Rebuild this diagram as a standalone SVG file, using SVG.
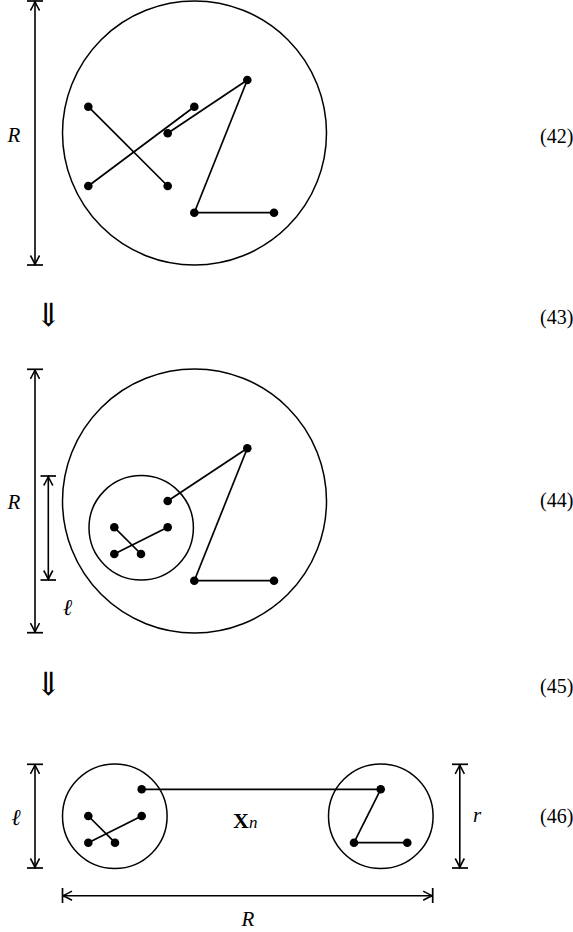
<svg xmlns="http://www.w3.org/2000/svg" width="573" height="932" viewBox="0 0 573 932">
  <style>
    .circ { fill: none; stroke: #000; stroke-width: 1.5; }
    .seg { fill: none; stroke: #000; stroke-width: 1.7; }
    .dim { fill: none; stroke: #000; stroke-width: 1.6; marker-start: url(#arr); marker-end: url(#arr); }
    .tick { fill: none; stroke: #000; stroke-width: 1.7; }
    .dot { fill: #000; }
    .lbl { font-family: "Liberation Serif", "Times New Roman", serif; font-size: 21px; font-style: italic; fill: #000; }
    .ell { font-family: "Liberation Serif", "Times New Roman", serif; font-size: 23px; font-style: italic; fill: #000; }
    .eq { font-family: "Liberation Serif", "Times New Roman", serif; font-size: 20px; fill: #000; }
    .imp { font-family: "DejaVu Sans", "DejaVu Serif", sans-serif; font-size: 32px; font-weight: 200; fill: #000; }
    .bold { font-family: "Liberation Serif", "Times New Roman", serif; font-size: 22px; font-weight: bold; fill: #000; }
    .sub { font-family: "Liberation Serif", "Times New Roman", serif; font-size: 17px; font-style: italic; fill: #000; }
  </style>
  <defs>
    <marker id="arr" markerUnits="userSpaceOnUse" markerWidth="12" markerHeight="12" viewBox="-9 -5 10 10" refX="0" refY="0" orient="auto-start-reverse">
      <path d="M -7.5 -3.8 Q -2.5 -1 0 0 Q -2.5 1 -7.5 3.8" fill="none" stroke="#000" stroke-width="1.3"/>
    </marker>
  </defs>

  <!-- Panel 42 -->
  <g id="panel42">
    <g id="dim42">
      <line class="tick" x1="27" y1="1" x2="43" y2="1"/>
      <line class="tick" x1="27" y1="265" x2="43" y2="265"/>
      <line class="dim" x1="35" y1="1.5" x2="35" y2="264.5"/>
      <text class="lbl" x="14" y="142" text-anchor="middle">R</text>
    </g>
    <circle id="big42" class="circ" cx="194.5" cy="133" r="132"/>
    <g id="walk42">
      <line class="seg" x1="88.3" y1="106.7" x2="167.7" y2="186"/>
      <line class="seg" x1="88.3" y1="186" x2="194.3" y2="106.7"/>
      <line class="seg" x1="167.7" y1="133.3" x2="247.3" y2="80"/>
      <line class="seg" x1="247.3" y1="80" x2="194.3" y2="212.7"/>
      <line class="seg" x1="194.3" y1="212.7" x2="274" y2="212.7"/>
      <circle class="dot" cx="88.3" cy="106.7" r="4.3"/>
      <circle class="dot" cx="194.3" cy="106.7" r="4.3"/>
      <circle class="dot" cx="247.3" cy="80" r="4.3"/>
      <circle class="dot" cx="167.7" cy="133.3" r="4.3"/>
      <circle class="dot" cx="88.3" cy="186" r="4.3"/>
      <circle class="dot" cx="167.7" cy="186" r="4.3"/>
      <circle class="dot" cx="194.3" cy="212.7" r="4.3"/>
      <circle class="dot" cx="274" cy="212.7" r="4.3"/>
    </g>
    <text class="eq" x="540" y="143">(42)</text>
  </g>

  <g id="step43">
    <text class="imp" x="48.5" y="326" text-anchor="middle">⇓</text>
    <text class="eq" x="540" y="324">(43)</text>
  </g>

  <!-- Panel 44 -->
  <g id="panel44">
    <g id="dimR44">
      <line class="tick" x1="27" y1="369.3" x2="43" y2="369.3"/>
      <line class="tick" x1="27" y1="632.7" x2="43" y2="632.7"/>
      <line class="dim" x1="35" y1="369.8" x2="35" y2="632.2"/>
      <text class="lbl" x="14" y="509" text-anchor="middle">R</text>
    </g>
    <g id="diml44">
      <line class="tick" x1="40.5" y1="476" x2="56" y2="476"/>
      <line class="tick" x1="40.5" y1="580" x2="56" y2="580"/>
      <line class="dim" x1="48.3" y1="476.5" x2="48.3" y2="579.5"/>
      <text class="ell" x="67.5" y="615" text-anchor="middle">ℓ</text>
    </g>
    <circle id="big44" class="circ" cx="194.5" cy="501" r="132"/>
    <circle id="small44" class="circ" cx="141.2" cy="527.8" r="52.2"/>
    <g id="walk44">
      <line class="seg" x1="167.7" y1="501" x2="247.3" y2="448.3"/>
      <line class="seg" x1="247.3" y1="448.3" x2="194.3" y2="580.7"/>
      <line class="seg" x1="194.3" y1="580.7" x2="274" y2="580.7"/>
      <line class="seg" x1="114.3" y1="527.3" x2="141" y2="554"/>
      <line class="seg" x1="114.3" y1="554" x2="167.7" y2="527.3"/>
      <circle class="dot" cx="247.3" cy="448.3" r="4.3"/>
      <circle class="dot" cx="167.7" cy="501" r="4.3"/>
      <circle class="dot" cx="114.3" cy="527.3" r="4.3"/>
      <circle class="dot" cx="167.7" cy="527.3" r="4.3"/>
      <circle class="dot" cx="114.3" cy="554" r="4.3"/>
      <circle class="dot" cx="141" cy="554" r="4.3"/>
      <circle class="dot" cx="194.3" cy="580.7" r="4.3"/>
      <circle class="dot" cx="274" cy="580.7" r="4.3"/>
    </g>
    <text class="eq" x="540" y="507">(44)</text>
  </g>

  <g id="step45">
    <text class="imp" x="48.5" y="695" text-anchor="middle">⇓</text>
    <text class="eq" x="540" y="693">(45)</text>
  </g>

  <!-- Panel 46 -->
  <g id="panel46">
    <g id="diml46">
      <line class="tick" x1="27" y1="764.3" x2="43" y2="764.3"/>
      <line class="tick" x1="27" y1="868" x2="43" y2="868"/>
      <line class="dim" x1="35" y1="764.8" x2="35" y2="867.5"/>
      <text class="ell" x="16" y="825" text-anchor="middle">ℓ</text>
    </g>
    <g id="dimr46">
      <line class="tick" x1="452" y1="764.3" x2="468" y2="764.3"/>
      <line class="tick" x1="452" y1="868" x2="468" y2="868"/>
      <line class="dim" x1="459.8" y1="764.8" x2="459.8" y2="867.5"/>
      <text class="lbl" x="477" y="822" text-anchor="middle">r</text>
    </g>
    <g id="dimR46">
      <line class="tick" x1="62.5" y1="888" x2="62.5" y2="903"/>
      <line class="tick" x1="432.7" y1="888" x2="432.7" y2="903"/>
      <line class="dim" x1="63" y1="895.7" x2="432.2" y2="895.7"/>
      <text class="lbl" x="248" y="926" text-anchor="middle">R</text>
    </g>
    <circle id="left46" class="circ" cx="114.8" cy="816.2" r="52.3"/>
    <circle id="right46" class="circ" cx="380.8" cy="816.2" r="52.3"/>
    <g id="walk46">
      <line class="seg" x1="141.7" y1="789.3" x2="380.7" y2="789.3"/>
      <line class="seg" x1="88.3" y1="816" x2="115" y2="842.7"/>
      <line class="seg" x1="88.3" y1="842.7" x2="141.7" y2="816"/>
      <line class="seg" x1="380.7" y1="789.3" x2="354" y2="842.7"/>
      <line class="seg" x1="354" y1="842.7" x2="407.3" y2="842.7"/>
      <circle class="dot" cx="141.7" cy="789.3" r="4.3"/>
      <circle class="dot" cx="88.3" cy="816" r="4.3"/>
      <circle class="dot" cx="141.7" cy="816" r="4.3"/>
      <circle class="dot" cx="88.3" cy="842.7" r="4.3"/>
      <circle class="dot" cx="115" cy="842.7" r="4.3"/>
      <circle class="dot" cx="380.7" cy="789.3" r="4.3"/>
      <circle class="dot" cx="354" cy="842.7" r="4.3"/>
      <circle class="dot" cx="407.3" cy="842.7" r="4.3"/>
    </g>
    <text x="233" y="828"><tspan class="bold">X</tspan><tspan class="sub">n</tspan></text>
    <text class="eq" x="540" y="823">(46)</text>
  </g>
</svg>
